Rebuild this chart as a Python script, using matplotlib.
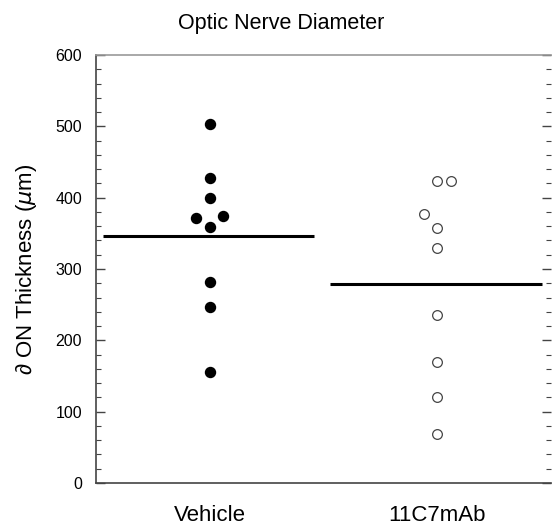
import numpy as np
import matplotlib
matplotlib.use("Agg")
import matplotlib.pyplot as plt
from matplotlib.ticker import MultipleLocator

plt.rcParams['font.family'] = ['Liberation Sans', 'DejaVu Sans']

# data
groups = ['Vehicle', '11C7mAb']
vehicle = [503, 428, 400, 371, 375, 359, 282, 247, 156]
vehicle_jitter = [0, 0, 0, -0.06, 0.06, 0, 0, 0, 0]
mab = [423, 423, 377, 358, 330, 235, 170, 120, 69]
mab_jitter = [0, 0.062, -0.06, 0, 0, 0, 0, 0, 0]
y_ticks = [0, 100, 200, 300, 400, 500, 600]

fig = plt.figure(figsize=(5.52, 5.29), dpi=100)
ax = fig.add_axes([96 / 552, 46 / 529, 455 / 552, 428 / 529])

# points
ax.plot(1 + np.array(vehicle_jitter), vehicle, 'o', color='black',
        markersize=7.2, linestyle='none')
ax.plot(2 + np.array(mab_jitter), mab, 'o', markerfacecolor='white',
        markeredgecolor='#444444', markeredgewidth=0.9,
        markersize=7.0, linestyle='none')

# group means
for i, vals in enumerate([vehicle, mab]):
    ax.hlines(np.mean(vals), i + 1 - 0.47, i + 1 + 0.46, color='black', linewidth=2.2)

ax.set_xlim(0.5, 2.5)
ax.set_ylim(0, 600)
ax.set_xticks([1, 2])
ax.set_xticklabels(groups, fontsize=16)
ax.tick_params(axis='x', length=0, pad=16)
ax.set_yticks(y_ticks)
ax.yaxis.set_minor_locator(MultipleLocator(20))
ax.tick_params(axis='y', which='major', direction='in', length=6.5, width=1,
               color='#444444', labelsize=11.5, right=True, pad=10)
ax.tick_params(axis='y', which='minor', direction='in', length=3.5, width=0.8,
               color='#444444', right=True)

for s in ['left', 'bottom']:
    ax.spines[s].set_color('#444444')
    ax.spines[s].set_linewidth(1.2)
ax.spines['top'].set_color('#999999')
ax.spines['top'].set_linewidth(1.2)
ax.spines['right'].set_visible(False)

ax.set_ylabel(r'∂ ON Thickness ($\mu$m)', fontsize=16, labelpad=12)
fig.text(0.51, 0.955, 'Optic Nerve Diameter', ha='center', va='center', fontsize=15.5)

fig.savefig('out.png', dpi=100)
